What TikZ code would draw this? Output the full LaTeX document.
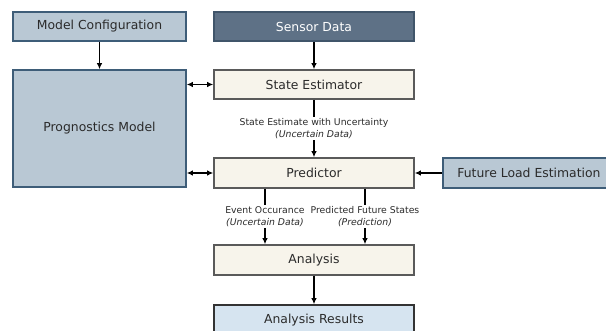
\documentclass[tikz,border=0pt]{standalone}
\usepackage{fontspec}
\setmainfont{DejaVu Sans}
\usetikzlibrary{arrows.meta}
\definecolor{cfgfill}{HTML}{B9C8D4}
\definecolor{cfgline}{HTML}{3E5D78}
\definecolor{sensfill}{HTML}{5E7186}
\definecolor{sensline}{HTML}{40556A}
\definecolor{procfill}{HTML}{F7F4EB}
\definecolor{procline}{HTML}{5A5A5A}
\definecolor{resfill}{HTML}{D6E4F0}
\definecolor{resline}{HTML}{333333}
\definecolor{txt}{HTML}{2B2B2B}
\tikzset{
  box/.style={draw, line width=1.6pt, minimum height=29pt, inner sep=0pt,
    font=\fontsize{12.4}{14}\selectfont, text=txt},
  inbox/.style={box, fill=cfgfill, draw=cfgline},
  sensbox/.style={box, fill=sensfill, draw=sensline, text=white},
  procbox/.style={box, fill=procfill, draw=procline, minimum width=200pt},
  resbox/.style={box, fill=resfill, draw=resline, minimum width=200pt},
  flow/.style={line width=1.4pt, -{Latex[length=6pt,width=5.5pt]}},
  twoway/.style={line width=1.4pt, {Latex[length=6pt,width=5.5pt]}-{Latex[length=6pt,width=5.5pt]}},
  lbl/.style={fill=white, inner sep=1pt, align=center, text=txt,
    font=\fontsize{9.3}{12}\selectfont}
}
\begin{document}
\begin{tikzpicture}[x=1pt,y=-1pt]
\useasboundingbox (0,0) rectangle (606,331);
\node[inbox, minimum width=173pt] (cfg) at (99.5,26.5) {Model Configuration};
\node[sensbox, minimum width=200pt] (sens) at (314,26.5) {Sensor Data};
\node[inbox, minimum width=173pt, minimum height=117pt] (model) at (99.5,128.5) {Prognostics Model};
\node[procbox] (est) at (314,84.5) {State Estimator};
\node[procbox, minimum height=30pt] (pred) at (314,173) {Predictor};
\node[inbox, minimum width=172pt, minimum height=30pt] (load) at (529,173) {Future Load Estimation};
\node[procbox, minimum height=30pt] (anal) at (314,260) {Analysis};
\node[resbox, minimum height=30pt] (res) at (314,320) {Analysis Results};

\draw[flow] (cfg) -- (model);
\draw[flow] (sens) -- (est);
\draw[twoway] (model.east |- est) -- (est.west);
\draw[twoway] (model.east |- pred) -- (pred.west);
\draw[flow] (load) -- (pred);
\draw[flow] (est) -- node[lbl] {State Estimate with Uncertainty\\\textit{(Uncertain Data)}} (pred);
\draw[flow] ([xshift=-49pt]pred.south) -- node[lbl] {Event Occurance\\\textit{(Uncertain Data)}} ([xshift=-49pt]anal.north);
\draw[flow] ([xshift=51pt]pred.south) -- node[lbl] {Predicted Future States\\\textit{(Prediction)}} ([xshift=51pt]anal.north);
\draw[flow] (anal) -- (res);
\end{tikzpicture}
\end{document}
